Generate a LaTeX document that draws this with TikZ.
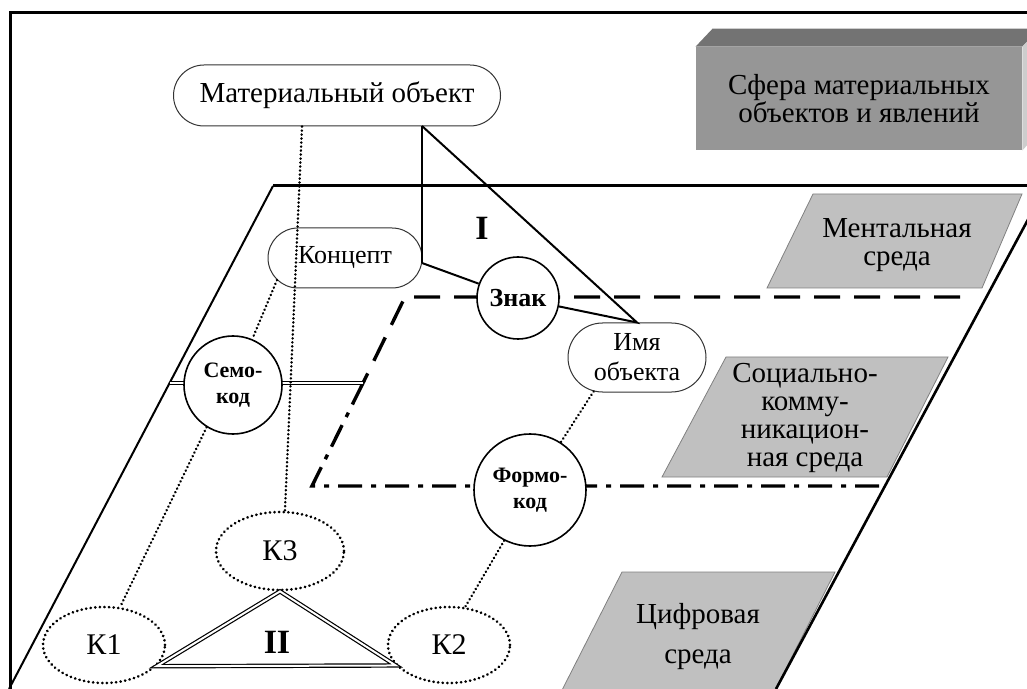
\documentclass[tikz,border=0pt]{standalone}
\usepackage{fontspec}
\setmainfont{Liberation Serif}
\usetikzlibrary{shapes.misc,shapes.geometric,calc}

\definecolor{boxfront}{RGB}{150,150,150}
\definecolor{boxtop}{RGB}{115,115,115}
\definecolor{boxside}{RGB}{205,205,205}
\definecolor{envgray}{RGB}{192,192,192}

\begin{document}
\begin{tikzpicture}[x=0.5pt,y=-0.5pt,
  pill/.style={rounded rectangle, draw=black!80, line width=0.5pt, fill=white, inner sep=0pt, align=center},
  code/.style={circle, draw, line width=0.8pt, fill=white, inner sep=0pt, align=center, font=\bfseries\fontsize{11}{13}\selectfont},
  kcode/.style={ellipse, draw, line width=1.4pt, dash pattern=on 0.1pt off 2.2pt, line cap=round, fill=white, inner sep=0pt, font=\fontsize{15}{17}\selectfont},
  envbox/.style={fill=envgray, draw=gray, line width=0.4pt},
  envtext/.style={align=center, font=\fontsize{14.5}{14}\selectfont},
  dotline/.style={line width=1.3pt, dash pattern=on 0.1pt off 1.9pt, line cap=round},
  twoline/.style={double, double distance=1pt, line width=0.6pt},
  roman/.style={font=\bfseries\fontsize{17}{17}\selectfont}]

\useasboundingbox (0,0) rectangle (1027,689);
\clip (0,0) rectangle (1027,689);

% sphere of material objects
\node[fill=boxfront, minimum width=163pt, minimum height=51.5pt, inner sep=0pt, align=center,
  font=\fontsize{14.5}{14}\selectfont] (sphere) at (859,98.5) {Сфера материальных\\объектов и явлений};
\fill[boxtop] (sphere.north west) -- ++(17,-18) -- ($(sphere.north east)+(17,-18)$) -- (sphere.north east) -- cycle;
\fill[boxside] (sphere.north east) -- ++(17,-18) -- ++(0,103) -- (sphere.south east) -- cycle;

% frame
\draw[line width=1.5pt] (10,689) -- (10,13) -- (1027,13);

% environments
\draw[envbox] (813,194) -- (1022,194) -- (982,288) -- (767,288) -- cycle;
\node[envtext] (mental) at (897,245) {Ментальная\\среда};
\draw[envbox] (726,357) -- (948,357) -- (887,477) -- (662,477) -- cycle;
\node[envtext] (social) at (805,418) {Социально-\\комму-\\никацион-\\ная среда};
\draw[envbox] (622,572) -- (835,572) -- (770,700) -- (557,700) -- cycle;
\node[envtext] (digital) at (698,637) {Цифровая\\[6pt]среда};

% planes
\draw[line width=1.5pt] (1027,186) -- (273,186);
\draw[line width=1pt] (273,186) -- (9,689);
\draw[line width=1.3pt] (1046,186) -- (776,689);
\draw[line width=1.7pt, dash pattern=on 13pt off 7pt] (960,297) -- (405,297) -- (363,383);
\draw[line width=1.7pt, dash pattern=on 12pt off 4.5pt on 2.5pt off 4.5pt] (363,383) -- (312,486) -- (882,486);
\draw[twoline] (170,383) -- (363,383);

% nodes
\node[pill, minimum width=163.5pt, minimum height=30.5pt, font=\fontsize{14.5}{14}\selectfont] (matobj) at (337,95.5) {Материальный объект};
\node[pill, minimum width=77pt, minimum height=30pt, font=\fontsize{13}{14}\selectfont] (konc) at (345,258) {Концепт};
\node[pill, minimum width=69pt, minimum height=34.5pt, font=\fontsize{13}{15}\selectfont] (imya) at (637,357.5) {Имя\\объекта};
\node[code, minimum size=41pt, font=\bfseries\fontsize{13}{13}\selectfont] (znak) at (518,298) {Знак};
\node[code, minimum size=49pt] (semo) at (233,385) {Семо-\\код};
\node[code, minimum size=56pt] (formo) at (530,490) {Формо-\\код};
\node[kcode, minimum width=64pt, minimum height=39pt] (k3) at (280,551) {К3};
\node[kcode, minimum width=61pt, minimum height=38pt] (k1) at (104,645) {К1};
\node[kcode, minimum width=61pt, minimum height=38pt] (k2) at (449,645) {К2};

% triangle I
\coordinate (topI) at (422,126);
\coordinate (knee) at (422,263);
\draw[line width=1.4pt] (topI) -- (knee);
\draw[line width=1pt] (knee) -- (znak);
\draw[line width=1pt] (topI) -- (imya.north) -- (znak);
\node[roman] (lI) at (482,228) {I};

% triangle II
\draw[twoline] (k1.338) -- (k2.201) -- (k3.south) -- cycle;
\node[roman] (lII) at (277,642) {II};

% dotted links
\draw[dotline] ([xshift=-17.5pt]matobj.south) -- (k3.83);
\draw[dotline] (konc.198) -- (semo);
\draw[dotline] (semo.238) -- (k1.67);
\draw[dotline] (imya.218) -- (formo);
\draw[dotline] (formo.243) -- (k2.67);
\end{tikzpicture}
\end{document}
